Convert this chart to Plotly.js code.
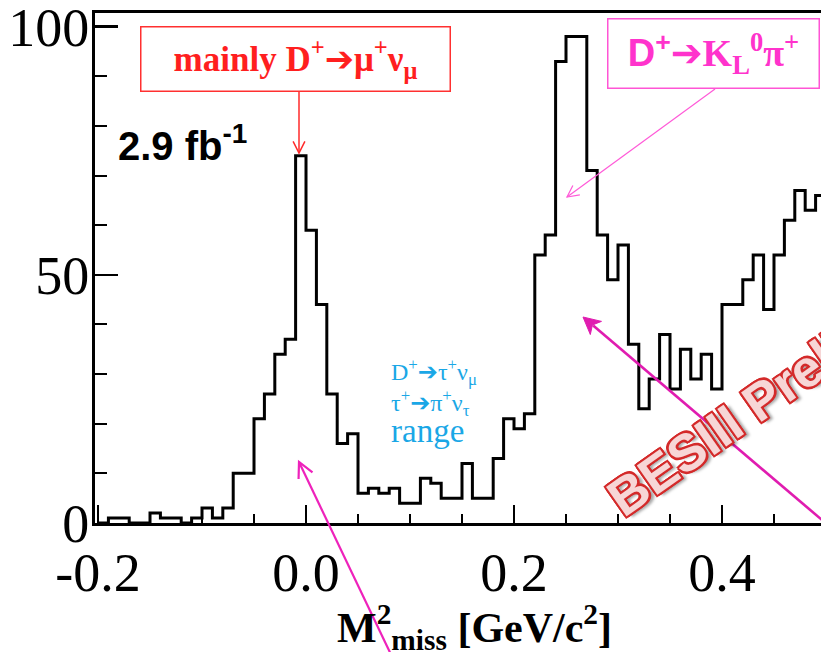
<!DOCTYPE html>
<html>
<head>
<meta charset="utf-8">
<script src="https://cdn.plot.ly/plotly-3.0.1.min.js"></script>
<style>
  html, body { margin: 0; padding: 0; background: #fff; overflow: hidden; }
  #plot { width: 821px; height: 652px; }
</style>
</head>
<body>
<div id="plot"></div>
<script>
// Missing-mass-squared spectrum, bins of 0.01 GeV²/c⁴ (left edges)
const binLow = [
  -0.20, -0.19, -0.18, -0.17, -0.16, -0.15, -0.14, -0.13, -0.12, -0.11,
  -0.10, -0.09, -0.08, -0.07, -0.06, -0.05, -0.04, -0.03, -0.02, -0.01,
   0.00,  0.01,  0.02,  0.03,  0.04,  0.05,  0.06,  0.07,  0.08,  0.09,
   0.10,  0.11,  0.12,  0.13,  0.14,  0.15,  0.16,  0.17,  0.18,  0.19,
   0.20,  0.21,  0.22,  0.23,  0.24,  0.25,  0.26,  0.27,  0.28,  0.29,
   0.30,  0.31,  0.32,  0.33,  0.34,  0.35,  0.36,  0.37,  0.38,  0.39,
   0.40,  0.41,  0.42,  0.43,  0.44,  0.45,  0.46,  0.47,  0.48,  0.49
];
const lastEdge = 0.50;
const counts = [
   0,  1,  1,  0,  0,  2,  1,  1,  0,  1,
   3,  1,  3, 10, 10, 21, 26, 34, 37, 74,
  59, 44, 26, 16, 18,  6,  7,  6,  7,  4,
   4,  9,  8,  5,  5, 12,  5,  5, 13, 21,
  19, 22, 54, 58, 93, 98, 98, 71, 58, 49,
  56, 36, 23, 29, 38, 27, 35, 29, 34, 27,
  44, 44, 49, 54, 43, 54, 61, 67, 63, 66
];

const xTickVals = [-0.2, 0.0, 0.2, 0.4];
const xTickText = ['-0.2', '0.0', '0.2', '0.4'];
const yTickVals = [0, 50, 100];
const yTickText = ['0', '50', '100'];

// figure geometry (px)
const W = 821, H = 652;
const M = { l: 95, r: 0, t: 13, b: 129 };
const PW = W - M.l - M.r, PH = H - M.t - M.b;
const px = p => (p - M.l) / PW;          // page x -> paper x
const py = p => (H - M.b - p) / PH;      // page y -> paper y

const SERIF = 'Liberation Serif, Times New Roman, serif';
const SANS = 'Liberation Sans, Arial, sans-serif';
const ARROW = '<span style="font-family:DejaVu Sans">➔</span>';

// arrow made of a shaft and a head, given page-pixel tail and head points
function arrow(tail, head, color, width, headLen, filled) {
  const dx = head[0] - tail[0], dy = head[1] - tail[1];
  const L = Math.hypot(dx, dy), ux = dx / L, uy = dy / L;
  const a = 27 * Math.PI / 180, c = Math.cos(a), s = Math.sin(a);
  const b1 = [head[0] - headLen * (ux * c - uy * s), head[1] - headLen * (uy * c + ux * s)];
  const b2 = [head[0] - headLen * (ux * c + uy * s), head[1] - headLen * (uy * c - ux * s)];
  const pt = p => px(p[0]).toFixed(5) + ',' + py(p[1]).toFixed(5);
  const shaftEnd = filled ? [head[0] - ux * headLen * 0.7, head[1] - uy * headLen * 0.7] : head;
  const out = [{
    type: 'line', xref: 'paper', yref: 'paper', layer: 'above',
    x0: px(tail[0]), y0: py(tail[1]), x1: px(shaftEnd[0]), y1: py(shaftEnd[1]),
    line: { color: color, width: width }
  }];
  if (filled) {
    const notch = [head[0] - ux * headLen * 0.65, head[1] - uy * headLen * 0.65];
    out.push({
      type: 'path', xref: 'paper', yref: 'paper', layer: 'above',
      path: 'M' + pt(b1) + ' L' + pt(head) + ' L' + pt(b2) + ' L' + pt(notch) + ' Z',
      fillcolor: color, line: { color: color, width: 1 }
    });
  } else {
    out.push({
      type: 'path', xref: 'paper', yref: 'paper', layer: 'above',
      path: 'M' + pt(b1) + ' L' + pt(head) + ' L' + pt(b2),
      line: { color: color, width: width }
    });
  }
  return out;
}

const hist = {
  type: 'scatter',
  mode: 'lines',
  x: binLow.concat([lastEdge]),
  y: counts.concat([counts[counts.length - 1]]),
  line: { shape: 'hv', color: '#000', width: 3 },
  hoverinfo: 'x+y',
  showlegend: false,
  cliponaxis: true
};

const shapes = [].concat(
  arrow([299, 92], [299, 153], '#ff2a2a', 1.5, 13, false),
  arrow([715, 89], [567, 197], '#ff5ad8', 1.2, 13, false),
  arrow([396, 665], [299, 462], '#ee22bb', 2.2, 17, false),
  arrow([835, 531], [583, 317], '#e01cb0', 2.6, 19, true)
);

const annotations = [
  {
    xref: 'paper', yref: 'paper', x: px(295), y: py(59),
    xanchor: 'center', yanchor: 'middle',
    text: 'mainly D<sup>+</sup>' + ARROW + 'μ<sup>+</sup>ν<sub>μ</sub>',
    font: { family: SERIF, size: 35, color: '#ff1f1f', weight: 'bold' },
    showarrow: false, width: 308, height: 63, borderpad: 0,
    bordercolor: '#ff3030', borderwidth: 1.5, bgcolor: 'rgba(255,255,255,0)'
  },
  {
    xref: 'paper', yref: 'paper', x: px(713.5), y: py(53.5),
    xanchor: 'center', yanchor: 'middle',
    text: '<span style="font-family:Liberation Sans">D<sup>+</sup></span>' + ARROW +
          'K<sub>L</sub><sup>0</sup>π<sup>+</sup>',
    font: { family: SERIF, size: 38, color: '#ff33cc', weight: 'bold' },
    showarrow: false, width: 210, height: 68, borderpad: 0,
    bordercolor: '#ff55d5', borderwidth: 1.5
  },
  {
    xref: 'paper', yref: 'paper', x: px(116), y: py(143),
    xanchor: 'left', yanchor: 'middle',
    text: '2.9 fb<sup>-1</sup>',
    font: { family: SANS, size: 40, color: '#000', weight: 'bold' },
    showarrow: false
  },
  {
    xref: 'paper', yref: 'paper', x: px(389), y: py(402),
    xanchor: 'left', yanchor: 'middle', align: 'left',
    text: 'D<sup>+</sup>' + ARROW + 'τ<sup>+</sup>ν<sub>μ</sub><br>' +
          'τ<sup>+</sup>' + ARROW + 'π<sup>+</sup>ν<sub>τ</sub><br>' +
          '<span style="font-size:33px">range</span>',
    font: { family: SERIF, size: 24, color: '#1aa7e6' },
    showarrow: false
  },
  {
    // axis caption
    xref: 'paper', yref: 'paper', x: px(475), y: py(627),
    xanchor: 'center', yanchor: 'middle',
    text: 'M<sup>2</sup><sub>miss</sub> [GeV/c<sup>2</sup>]',
    font: { family: SERIF, size: 42, color: '#000', weight: 'bold' },
    showarrow: false
  },
  {
    xref: 'paper', yref: 'paper', x: px(797), y: py(375),
    xanchor: 'center', yanchor: 'middle',
    text: 'BESIII Preliminary',
    textangle: -35,
    font: {
      family: SANS, size: 52, color: '#f7d6d6', weight: 'bold',
      shadow: '-2px -2px 0 #d42a2a, 2px -2px 0 #d42a2a, -2px 2px 0 #d42a2a, 2px 2px 0 #d42a2a, 0 -2px 0 #d42a2a, 0 2px 0 #d42a2a, -2px 0 0 #d42a2a, 2px 0 0 #d42a2a, 4px 4px 3px rgba(0,0,0,0.35)'
    },
    showarrow: false
  }
];

const layout = {
  width: W, height: H,
  margin: { l: M.l, r: M.r, t: M.t, b: M.b, pad: 0 },
  paper_bgcolor: '#fff', plot_bgcolor: '#fff',
  showlegend: false,
  xaxis: {
    range: [-0.2029, 0.4952],
    tickmode: 'array', tickvals: xTickVals, ticktext: xTickText,
    ticks: 'inside', ticklen: 18, tickwidth: 2.5, tickcolor: '#000',
    minor: { dtick: 0.05, tick0: 0, ticks: 'inside', ticklen: 9, tickwidth: 2, tickcolor: '#000', showgrid: false },
    showline: true, linewidth: 3, linecolor: '#000', mirror: true,
    showgrid: false, zeroline: false, automargin: false,
    ticklabeloverflow: 'allow',
    tickfont: { family: SERIF, size: 54, color: '#000' }
  },
  yaxis: {
    range: [0, 102.75],
    tickmode: 'array', tickvals: yTickVals, ticktext: yTickText,
    ticks: 'inside', ticklen: 23, tickwidth: 2.5, tickcolor: '#000',
    minor: { dtick: 10, tick0: 0, ticks: 'inside', ticklen: 12, tickwidth: 2, tickcolor: '#000', showgrid: false },
    showline: true, linewidth: 3, linecolor: '#000', mirror: false,
    showgrid: false, zeroline: false, automargin: false,
    ticklabeloverflow: 'allow',
    tickfont: { family: SERIF, size: 54, color: '#000' },
    ticklabelstandoff: -8
  },
  shapes: shapes,
  annotations: annotations
};

Plotly.newPlot('plot', [hist], layout, { displayModeBar: false, staticPlot: true });
</script>
</body>
</html>
